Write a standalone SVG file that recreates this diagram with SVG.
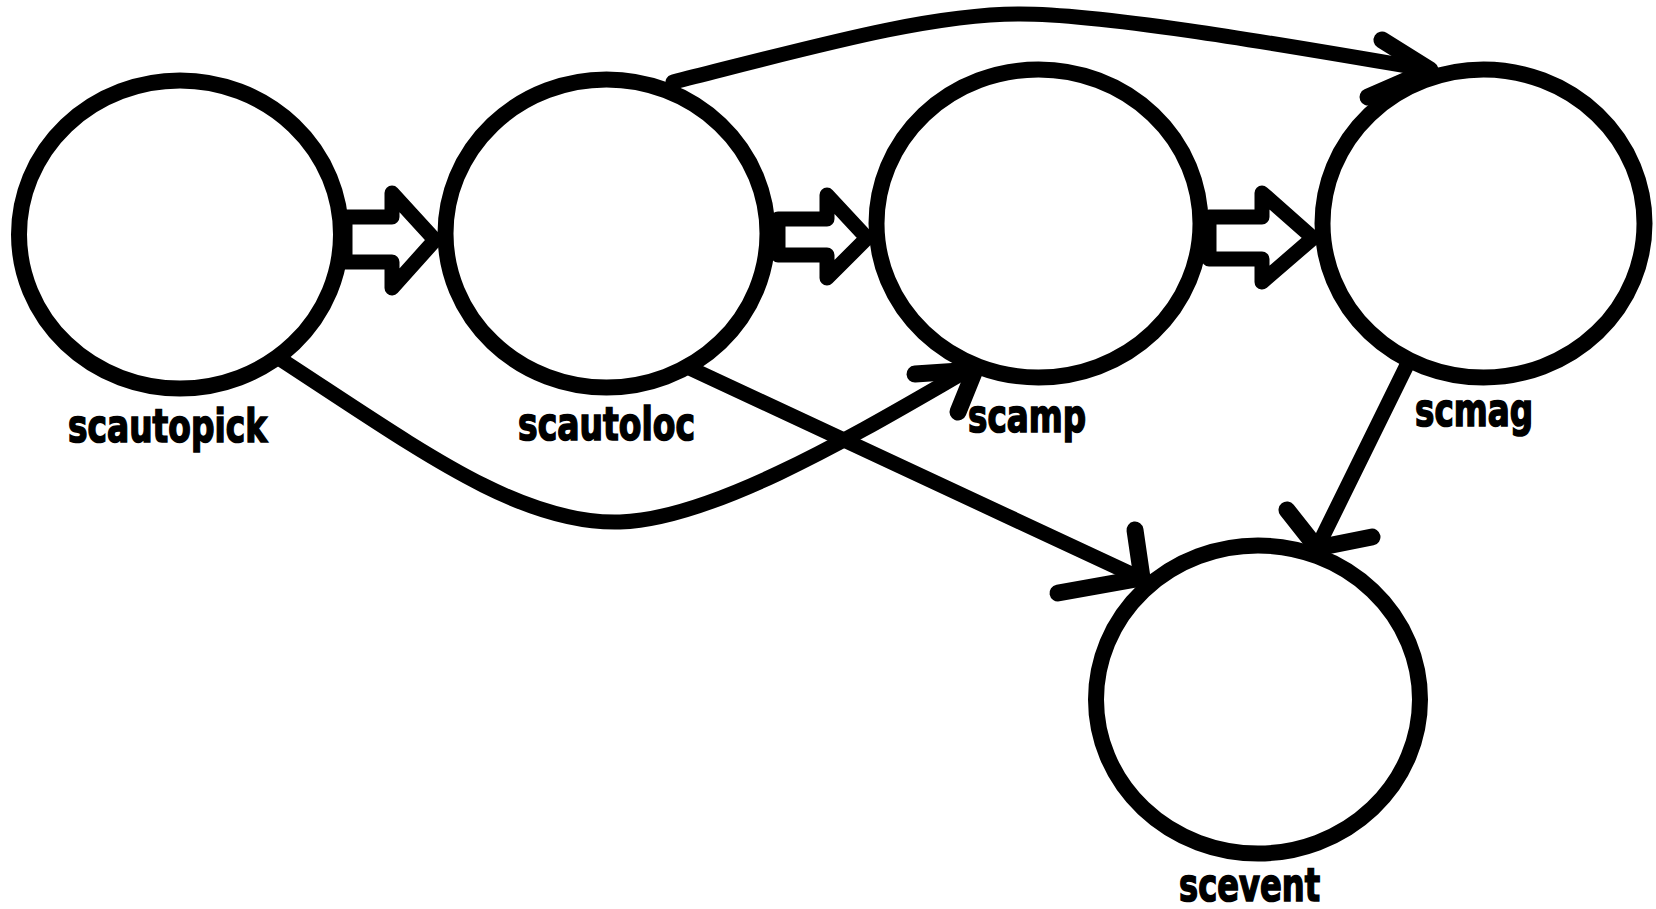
<svg xmlns="http://www.w3.org/2000/svg" width="1656" height="909" viewBox="0 0 1656 909">
<style>
.node{fill:#fff;stroke:#000;stroke-width:16}
.lbl{font-family:"DejaVu Sans Condensed","DejaVu Sans","Liberation Sans",sans-serif;font-weight:bold;font-size:47px;fill:#000;stroke:#000;stroke-width:1.6}
.ln{fill:none;stroke:#000;stroke-width:15;stroke-linecap:round;stroke-linejoin:round}
.head{fill:none;stroke:#000;stroke-width:17;stroke-linecap:round;stroke-linejoin:round}
.hol{fill:none;stroke:#000;stroke-width:15;stroke-linecap:round;stroke-linejoin:round}
</style>
<rect width="1656" height="909" fill="#fff"/>
<g id="connectors">
<path class="ln" d="M673,82 C820,45 930,14 1020,14 S1300,48 1430,70"/>
<path class="head" d="M1382,40 L1430,70 L1368,97"/>
<path class="ln" d="M277,357 C420,450 520,525 620,522 S880,420 973,367"/>
<path class="head" d="M915,374 L975,370 L958,412"/>
<path class="ln" d="M683,365 L1140,578"/>
<path class="head" d="M1135,530 L1142,578 L1058,593"/>
<path class="ln" d="M1408,363 L1317,548"/>
<path class="head" d="M1287,510 L1317,548 L1372,537"/>
<path class="hol" d="M345,217 H392 V193 L435,240 L392,288 V262 H345 Z"/>
<path class="hol" d="M778,219 H827 V195 L867,238 L827,278 V255 H778 Z"/>
<path class="hol" d="M1209,217 H1262 V193 L1313,238 L1262,282 V259 H1209 Z"/>
</g>
<g id="scautopick"><ellipse class="node" cx="180" cy="234.5" rx="161" ry="154"/><text class="lbl" x="68" y="442" textLength="199" lengthAdjust="spacingAndGlyphs">scautopick</text></g>
<g id="scautoloc"><ellipse class="node" cx="606.5" cy="233.5" rx="161" ry="154"/><text class="lbl" x="518" y="440" textLength="177" lengthAdjust="spacingAndGlyphs">scautoloc</text></g>
<g id="scamp"><ellipse class="node" cx="1038.5" cy="223.5" rx="162" ry="154"/><text class="lbl" x="968" y="432" textLength="118" lengthAdjust="spacingAndGlyphs">scamp</text></g>
<g id="scmag"><ellipse class="node" cx="1483.5" cy="223.5" rx="161" ry="154"/><text class="lbl" x="1415" y="426" textLength="118" lengthAdjust="spacingAndGlyphs">scmag</text></g>
<g id="scevent"><ellipse class="node" cx="1258" cy="699.5" rx="162" ry="154"/><text class="lbl" x="1179" y="901" textLength="141" lengthAdjust="spacingAndGlyphs">scevent</text></g>
</svg>
